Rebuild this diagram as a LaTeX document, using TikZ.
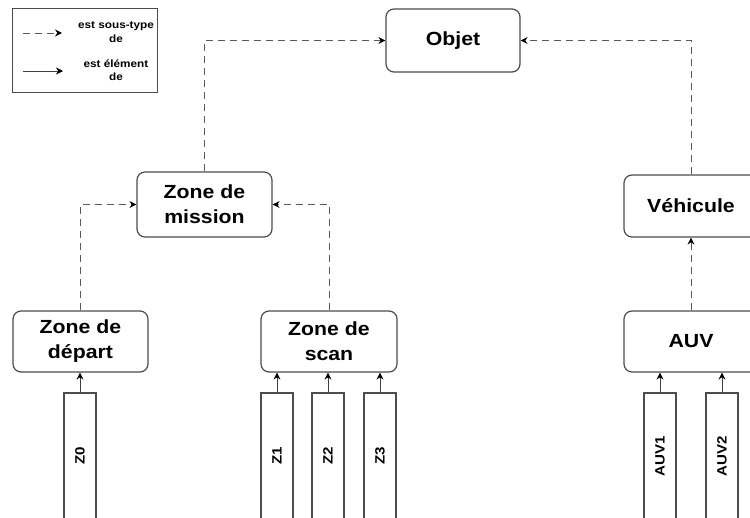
\documentclass[tikz,border=0pt]{standalone}
\usepackage{fontspec}
\setmainfont{Liberation Sans}[FakeStretch=1.12]
\usetikzlibrary{arrows.meta}
\begin{document}
\begin{tikzpicture}[x=1pt,y=-1pt,
  box/.style={draw=black!70, line width=1.2pt, rounded corners=8pt, fill=white,
    font=\fontsize{19}{25}\selectfont\bfseries, align=center, inner sep=0pt},
  inst/.style={draw=black!70, line width=1.1pt, fill=white, minimum width=32pt,
    minimum height=126pt, inner sep=0pt, font=\fontsize{13.5}{15}\selectfont\bfseries},
  legtxt/.style={font=\fontsize{10.5}{13.5}\selectfont\bfseries, align=center, inner sep=0pt},
  sub/.style={draw=black!65, line width=1pt, dash pattern=on 7pt off 5pt,
    -{Stealth[length=7pt,width=7pt,black]}},
  elem/.style={draw=black!75, line width=1pt, -{Stealth[length=7pt,width=7pt,black]}}]
\useasboundingbox (0,0) rectangle (750,517);
\clip (0,0) rectangle (750,517);
\fill[white] (0,0) rectangle (750,517);

% legend
\node[draw=black!70, line width=1pt, minimum width=145pt, minimum height=84pt, inner sep=0pt] (leg) at (84.5,50) {};
\coordinate (l1a) at (23,33); \coordinate (l1b) at (62,33);
\coordinate (l2a) at (23,71); \coordinate (l2b) at (63,71);
\draw[sub] (l1a) -- (l1b);
\draw[elem] (l2a) -- (l2b);
\node[legtxt] (lt1) at (116,32) {est sous-type\\de};
\node[legtxt] (lt2) at (116,70) {est élément\\de};

% main boxes
\node[box, minimum width=134pt, minimum height=63pt] (obj) at (453,40.5) {Objet};
\node[box, minimum width=135pt, minimum height=65pt] (zm) at (204.5,204.5) {Zone de\\mission};
\node[box, minimum width=134pt, minimum height=62pt] (veh) at (691,206) {Véhicule};
\node[box, minimum width=134pt, minimum height=61pt] (auv) at (691,341.5) {AUV};
\node[box, minimum width=135pt, minimum height=61pt] (zd) at (80.5,341.5) {Zone de\\départ};
\node[box, minimum width=136pt, minimum height=61pt] (zs) at (329,341.5) {Zone de\\scan};

% instances
\node[inst] (z0) at (80,456) {\rotatebox{90}{Z0}};
\node[inst] (z1) at (277,456) {\rotatebox{90}{Z1}};
\node[inst] (z2) at (328,456) {\rotatebox{90}{Z2}};
\node[inst] (z3) at (380,456) {\rotatebox{90}{Z3}};
\node[inst] (a1) at (660,456) {\rotatebox{90}{AUV1}};
\node[inst] (a2) at (722,456) {\rotatebox{90}{AUV2}};

% subtype connectors
\draw[sub] (zm.north) |- (obj.west);
\draw[sub] (veh.north) |- (obj.east);
\draw[sub] (zd.north) |- (zm.west);
\draw[sub] (zs.north) |- (zm.east);
\draw[sub] (auv.north) -- (veh.south);

% element connectors
\draw[elem] (z0.north) -- (z0.north |- zd.south);
\draw[elem] (z1.north) -- (z1.north |- zs.south);
\draw[elem] (z2.north) -- (z2.north |- zs.south);
\draw[elem] (z3.north) -- (z3.north |- zs.south);
\draw[elem] (a1.north) -- (a1.north |- auv.south);
\draw[elem] (a2.north) -- (a2.north |- auv.south);
\end{tikzpicture}
\end{document}
